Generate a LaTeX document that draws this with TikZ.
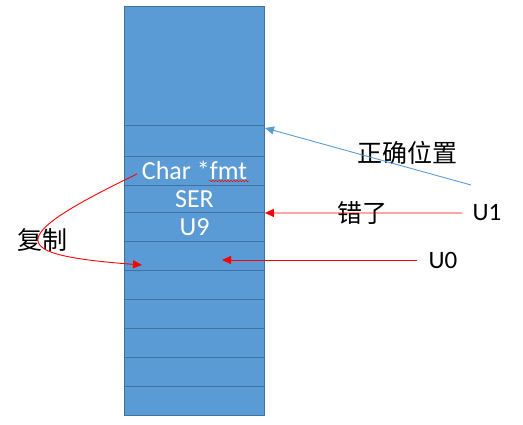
\documentclass[tikz,border=0pt]{standalone}
\usepackage{fontspec}
\setmainfont{Carlito}
\newfontfamily\cjk{Noto Sans CJK SC}
\usepackage{tikz}
\usetikzlibrary{arrows.meta,decorations.pathmorphing}
\definecolor{cellBlue}{HTML}{5B9BD5}
\definecolor{cellEdge}{HTML}{41719C}
\definecolor{hintBlue}{HTML}{5B9BD5}

\tikzset{
  cell/.style={draw=cellEdge, fill=cellBlue, line width=0.9pt,
    minimum width=140pt, minimum height=29pt, inner sep=0pt,
    text=white, font=\fontsize{26}{26}\selectfont},
  lab/.style={inner sep=0pt, font=\fontsize{25}{25}\selectfont},
  cjklab/.style={inner sep=0pt, font=\cjk\fontsize{25}{25}\selectfont},
  redarr/.style={-{Triangle[length=9pt,width=8pt]}, red, line width=0.9pt},
}

\begin{document}
\begin{tikzpicture}[x=1pt,y=-1pt]
  \useasboundingbox (0,0) rectangle (523,424);
  % the stack column
  \node[cell, minimum height=119pt] (top) at (194.5,65.5) {};
  \node[cell, minimum height=31pt] (pad) at (194.5,140.5) {};
  \node[cell, minimum height=29pt] (fmt) at (194.5,170.5) {Char *fmt};
  \node[cell, minimum height=27.5pt] (ser) at (194.5,198.75) {SER};
  \node[cell, minimum height=28.5pt] (u9) at (194.5,226.75) {U9};
  \foreach \i in {0,...,5}
    \node[cell] (e\i) at (194.5,255.5+29*\i) {};
  % spell-check squiggle under fmt
  \draw[red, line width=0.5pt, decorate,
    decoration={snake, amplitude=0.8pt, segment length=3pt}]
    (209,181) -- (249,181);
  % labels
  \node[lab] (u1) at (487,213) {U1};
  \node[lab] (u0) at (443,260) {U0};
  \node[cjklab] (ok) at (407,153) {正确位置};
  \node[cjklab] (wrong) at (362,213) {错了};
  \node[cjklab] (copy) at (42,240) {复制};
  % arrow ends
  \coordinate (oktail) at (471,185);
  \coordinate (okpos) at (265,128);
  \coordinate (u0pos) at (222,260);
  \coordinate (cpsrc) at (137,174);
  \coordinate (cpdst) at (142,265);
  % where U1 should go
  \draw[-{Triangle[length=9pt,width=8pt]}, hintBlue, line width=0.9pt]
    (oktail) -- (okpos);
  % where it went
  \draw[redarr] ([xshift=-10pt]u1.west) -- (ser.south east);
  \draw[redarr] ([xshift=-11pt]u0.west) -- (u0pos);
  % the copy
  \draw[redarr] (cpsrc) .. controls (0,240) and (11,255) .. (cpdst);
\end{tikzpicture}
\end{document}
